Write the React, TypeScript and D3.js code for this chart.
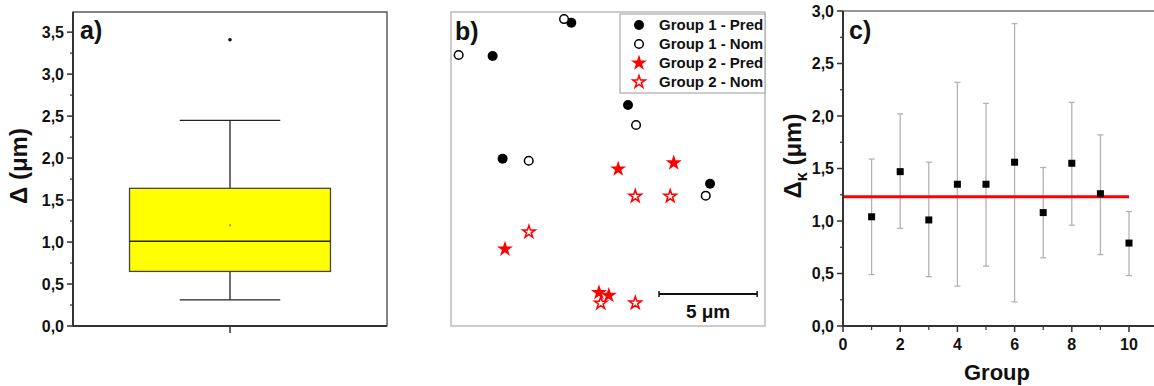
import React from 'react';
import * as d3 from 'd3';

// a) box plot of the deviation
const boxWhiskers = [0.31, 2.45];
const boxQuartiles = [0.65, 1.01, 1.64]; // Q1, median, Q3
const boxMean = [1.2];
const boxOutliers = [3.41];
const boxTicks = [0, 0.5, 1, 1.5, 2, 2.5, 3, 3.5];

// b) positions in um
const group1Pred: [number, number][] = [[6.13, 15.45], [2.12, 13.76], [9.02, 11.26], [2.63, 8.52], [13.2, 7.25]];
const group1Nom: [number, number][] = [[5.76, 15.64], [0.39, 13.81], [9.43, 10.24], [3.96, 8.42], [12.98, 6.64]];
const group2Pred: [number, number][] = [[8.52, 8.0], [11.35, 8.31], [2.75, 3.92], [7.54, 1.7], [8.04, 1.56]];
const group2Nom: [number, number][] = [[9.39, 6.61], [11.17, 6.61], [3.97, 4.79], [7.63, 1.16], [9.39, 1.17]];
const legendLabels = ['Group 1 - Pred', 'Group 1 - Nom', 'Group 2 - Pred', 'Group 2 - Nom'];
const scaleBarUm = 5;

// c) per group mean with range
const groups = [1, 2, 3, 4, 5, 6, 7, 8, 9, 10];
const kappaMean = [1.04, 1.47, 1.01, 1.35, 1.35, 1.56, 1.08, 1.55, 1.26, 0.79];
const kappaLow = [0.49, 0.93, 0.47, 0.38, 0.57, 0.23, 0.65, 0.96, 0.68, 0.48];
const kappaHigh = [1.59, 2.02, 1.56, 2.32, 2.12, 2.88, 1.51, 2.13, 1.82, 1.09];
const kappaOverall = [1.23];
const groupTicks = [0, 2, 4, 6, 8, 10];
const kappaTicks = [0, 0.5, 1, 1.5, 2, 2.5, 3];

const font = '"Liberation Sans", Arial, sans-serif';
const comma = (v: number) => d3.format('.1f')(v).replace('.', ',');

function BoxPanel() {
  const y = d3.scaleLinear().domain([0, 3.74]).range([326, 12]);
  const x = d3.scaleLinear().domain([0.5, 1.5]).range([73, 387]);
  const minor = d3.range(0.25, 3.74, 0.5);
  const [q1, med, q3] = boxQuartiles;
  return (
    <g>
      <rect x={73} y={12} width={314} height={314} fill="none" stroke="#333" strokeWidth={1.2} />
      <line x1={x(1 - 0.16)} x2={x(1 + 0.16)} y1={y(boxWhiskers[0])} y2={y(boxWhiskers[0])} stroke="#222" strokeWidth={1.3} />
      <line x1={x(1 - 0.16)} x2={x(1 + 0.16)} y1={y(boxWhiskers[1])} y2={y(boxWhiskers[1])} stroke="#222" strokeWidth={1.3} />
      <line x1={x(1)} x2={x(1)} y1={y(boxWhiskers[0])} y2={y(q1)} stroke="#222" strokeWidth={1.3} />
      <line x1={x(1)} x2={x(1)} y1={y(q3)} y2={y(boxWhiskers[1])} stroke="#222" strokeWidth={1.3} />
      <rect x={x(1 - 0.32)} y={y(q3)} width={x(1 + 0.32) - x(1 - 0.32)} height={y(q1) - y(q3)}
        fill="#ffff00" stroke="#444" strokeWidth={1.3} />
      <line x1={x(1 - 0.32)} x2={x(1 + 0.32)} y1={y(med)} y2={y(med)} stroke="#222" strokeWidth={1.5} />
      {boxMean.map((m, i) => <rect key={i} x={x(1) - 1} y={y(m) - 1} width={2} height={2} fill="#9a9a30" />)}
      {boxOutliers.map((o, i) => <circle key={i} cx={x(1)} cy={y(o)} r={1.8} fill="#111" />)}
      <line x1={73} x2={73} y1={12} y2={326} stroke="#333" strokeWidth={2} />
      <line x1={73} x2={387} y1={326} y2={326} stroke="#333" strokeWidth={2} />
      <line x1={x(1)} x2={x(1)} y1={326} y2={333} stroke="#333" strokeWidth={1.5} />
      {boxTicks.map(t => (
        <g key={t}>
          <line x1={67} x2={73} y1={y(t)} y2={y(t)} stroke="#333" strokeWidth={1.5} />
          <text x={64} y={y(t)} dy="0.35em" textAnchor="end" fontSize={16} fontWeight="bold" fill="#111">{comma(t)}</text>
        </g>
      ))}
      {minor.map(t => <line key={t} x1={70} x2={73} y1={y(t)} y2={y(t)} stroke="#333" strokeWidth={1.2} />)}
      <text x={80} y={39} fontSize={25} fontWeight="bold" fill="#111">a)</text>
      <text transform="translate(27,166) rotate(-90)" textAnchor="middle" fontSize={24} fontWeight="bold" fill="#111">Δ (μm)</text>
    </g>
  );
}

function ScatterPanel() {
  const x = d3.scaleLinear().domain([0, 16]).range([451, 765]);
  const y = d3.scaleLinear().domain([0, 16]).range([326, 12]);
  const starBig = d3.symbol(d3.symbolStar, 80)() as string;
  const starSmall = d3.symbol(d3.symbolStar, 48)() as string;
  const marks = [
    (k: number) => <circle key={k} r={5} fill="#000" />,
    (k: number) => <circle key={k} r={4.3} fill="#fff" stroke="#000" strokeWidth={1.5} />,
    (k: number) => <path key={k} d={starBig} fill="#ff0000" />,
    (k: number) => <path key={k} d={starSmall} fill="#fff" stroke="#ff0000" strokeWidth={1.5} />,
  ];
  const series = [group1Pred, group1Nom, group2Pred, group2Nom];
  return (
    <g>
      <rect x={451} y={12} width={314} height={314} fill="none" stroke="#aaa" strokeWidth={1.2} />
      {series.map((s, si) => s.map((p, i) => (
        <g key={`${si}-${i}`} transform={`translate(${x(p[0])},${y(p[1])})`}>{marks[si](i)}</g>
      )))}
      <rect x={620} y={14} width={145} height={79} fill="#fff" stroke="#aaa" strokeWidth={1.2} />
      {legendLabels.map((l, i) => (
        <g key={l} transform={`translate(639,${25 + i * 19})`}>
          {marks[i](i)}
          <text x={20} dy="0.36em" fontSize={15} fontWeight="bold" fill="#111">{l}</text>
        </g>
      ))}
      <g stroke="#111">
        <line x1={x(10.6)} x2={x(10.6 + scaleBarUm)} y1={294} y2={294} strokeWidth={2} />
        <line x1={x(10.6)} x2={x(10.6)} y1={291} y2={297} strokeWidth={1.5} />
        <line x1={x(10.6 + scaleBarUm)} x2={x(10.6 + scaleBarUm)} y1={291} y2={297} strokeWidth={1.5} />
      </g>
      <text x={x(10.6 + scaleBarUm / 2)} y={318} textAnchor="middle" fontSize={19} fontWeight="bold" fill="#111">{scaleBarUm} μm</text>
      <text x={455} y={40} fontSize={25} fontWeight="bold" fill="#111">b)</text>
    </g>
  );
}

function ErrorPanel() {
  const x = d3.scaleLinear().domain([0, 11]).range([843, 843 + 11 * 28.6]);
  const y = d3.scaleLinear().domain([0, 3]).range([326, 11]);
  const minorY = d3.range(0.25, 3, 0.5);
  const minorX = [1, 3, 5, 7, 9];
  return (
    <g>
      <line x1={843} x2={1154} y1={11} y2={11} stroke="#333" strokeWidth={1.2} />
      {groups.map((g, i) => (
        <g key={g} stroke="#b3b3b3" strokeWidth={1.3}>
          <line x1={x(g)} x2={x(g)} y1={y(kappaLow[i])} y2={y(kappaHigh[i])} />
          <line x1={x(g) - 3} x2={x(g) + 3} y1={y(kappaLow[i])} y2={y(kappaLow[i])} />
          <line x1={x(g) - 3} x2={x(g) + 3} y1={y(kappaHigh[i])} y2={y(kappaHigh[i])} />
        </g>
      ))}
      {kappaOverall.map((v, i) => (
        <line key={i} x1={x(0)} x2={x(10)} y1={y(v)} y2={y(v)} stroke="#ff0000" strokeWidth={3} />
      ))}
      {groups.map((g, i) => (
        <rect key={g} x={x(g) - 3.5} y={y(kappaMean[i]) - 3.5} width={7} height={7} fill="#000" />
      ))}
      <line x1={843} x2={843} y1={11} y2={326} stroke="#333" strokeWidth={2} />
      <line x1={843} x2={1154} y1={326} y2={326} stroke="#333" strokeWidth={2} />
      {kappaTicks.map(t => (
        <g key={t}>
          <line x1={837} x2={843} y1={y(t)} y2={y(t)} stroke="#333" strokeWidth={1.5} />
          <text x={834} y={y(t)} dy="0.35em" textAnchor="end" fontSize={16} fontWeight="bold" fill="#111">{comma(t)}</text>
        </g>
      ))}
      {minorY.map(t => <line key={t} x1={840} x2={843} y1={y(t)} y2={y(t)} stroke="#333" strokeWidth={1.2} />)}
      {groupTicks.map(t => (
        <g key={t}>
          <line x1={x(t)} x2={x(t)} y1={326} y2={332} stroke="#333" strokeWidth={1.5} />
          <text x={x(t)} y={350} textAnchor="middle" fontSize={16} fontWeight="bold" fill="#111">{t}</text>
        </g>
      ))}
      {minorX.map(t => <line key={t} x1={x(t)} x2={x(t)} y1={326} y2={330} stroke="#333" strokeWidth={1.2} />)}
      <text x={849} y={39} fontSize={25} fontWeight="bold" fill="#111">c)</text>
      <text x={997} y={380} textAnchor="middle" fontSize={22} fontWeight="bold" fill="#111">Group</text>
      <text transform="translate(801,156) rotate(-90)" textAnchor="middle" fontSize={24} fontWeight="bold" fill="#111">
        Δ<tspan fontSize={16} dy={6}>κ</tspan><tspan dy={-6}> (μm)</tspan>
      </text>
    </g>
  );
}

export default function App() {
  return (
    <svg width={1154} height={386} style={{ position: 'absolute', left: 0, top: 0, background: '#fff' }}
      fontFamily={font}>
      <rect width={1154} height={386} fill="#fff" />
      <BoxPanel />
      <ScatterPanel />
      <ErrorPanel />
    </svg>
  );
}
